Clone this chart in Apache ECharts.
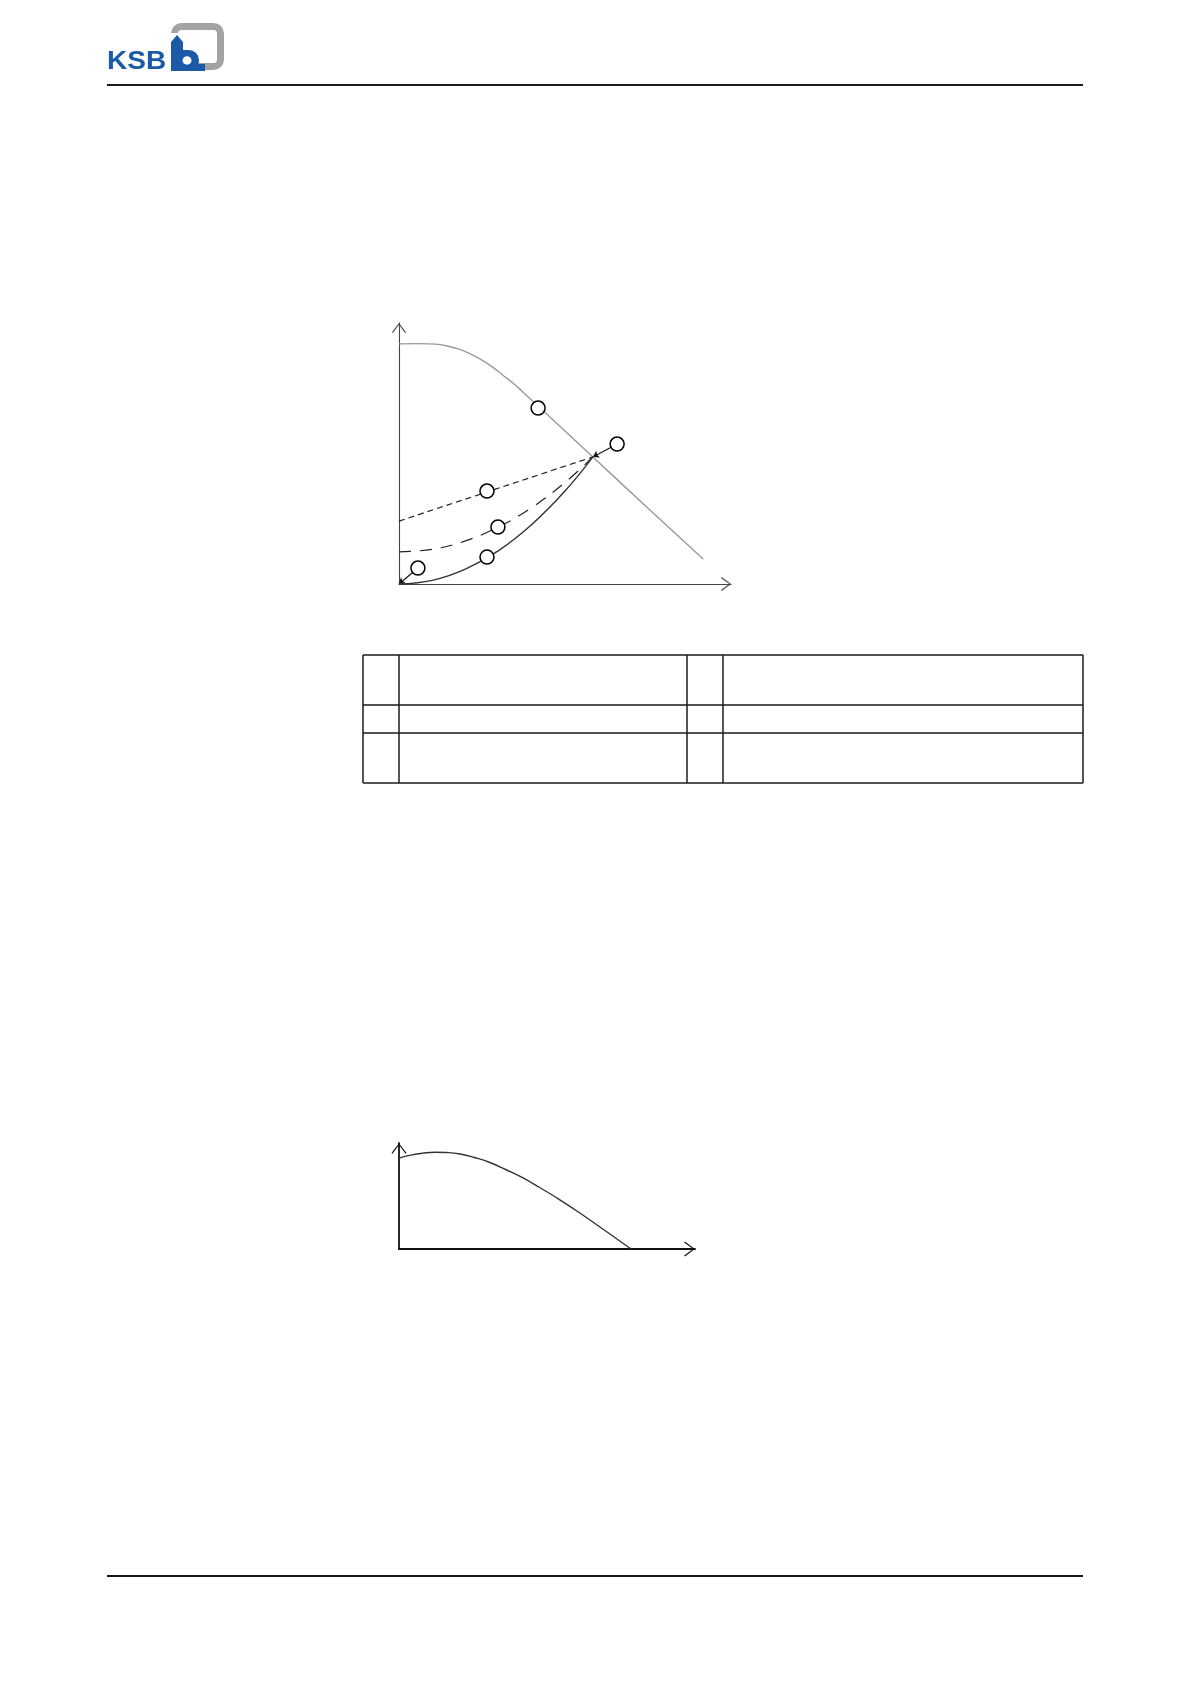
<!DOCTYPE html>
<html>
<head>
<meta charset="utf-8">
<script src="https://cdn.jsdelivr.net/npm/echarts@6/dist/echarts.min.js"></script>
<style>
  html, body { margin: 0; padding: 0; background: #fff; }
  #main { width: 1191px; height: 1684px; }
</style>
</head>
<body>
<div id="main"></div>
<script>
// ---------------- data (axis units 0..100) ----------------
// pump curve H(Q)
const pumpCurve = [[0, 92], [6, 92.1], [11, 91.9], [14.5, 91.2], [17.5, 90.2], [21, 88.5],
  [24.4, 86.2], [28, 83.3], [31.3, 80.0], [34.5, 76.8], [37.3, 73.6], [41.9, 68.2],
  [50, 58.6], [58.4, 48.7], [75, 29.0], [91.6, 9.6]]
// system curves: static only, mixed, dynamic only
const systemStatic = [[0, 24.1], [58.4, 48.7]]
const systemMixed = [[0, 12.3], [10, 13.3], [20, 16.5], [30, 21.9], [40, 29.3], [50, 38.9], [58.4, 48.7]]
const systemDynamic = [[0, 0], [10, 1.4], [20, 5.7], [30, 12.8], [40, 22.8], [50, 35.6], [58.4, 48.7]]
// callout circles and their pointers
const labelCircles = [[41.9, 67.4], [65.7, 53.6], [26.5, 35.6], [29.8, 21.8], [26.5, 10.3], [5.7, 6.1]]
const pointerLines = [[[63.9, 52.4], [58.4, 48.7]], [[4.1, 4.4], [0, 0]]]
// second diagram
const pumpCurve2 = [[0, 85.8], [4, 88.6], [8, 90.4], [12.2, 91.3], [16, 91.0], [20.6, 89.6],
  [25.5, 86.3], [30.7, 81.6], [36, 75.0], [41.9, 67.0], [47.5, 58.0], [53.4, 48.1],
  [61.1, 34.0], [70.3, 16.0], [78.4, 0]]

// open arrow head (chevron) for axis ends
const chevron = 'path://M0,9.2 L7,0 L14,9.2 L13.1,10 L7,1.7 L0.9,10 Z'

function axis(color, width, size) {
  return {
    type: 'value', min: 0, max: 100,
    axisLine: {
      show: true, onZero: true,
      symbol: ['none', chevron], symbolSize: size, symbolOffset: [0, -size[1] / 2],
      lineStyle: { color: color, width: width }
    },
    axisTick: { show: false }, axisLabel: { show: false }, splitLine: { show: false }
  }
}

// table & page rules
const blue = '#1b5aa6'
const grey = '#a3a3a3'
const ink = '#1a1a1a'
const tableX = [363, 399, 687, 723, 1083]
const tableY = [655, 705, 733, 783]
const graphics = []
function hline(y, x1, x2, w) {
  graphics.push({ type: 'line', shape: { x1: x1, y1: y, x2: x2, y2: y }, style: { stroke: ink, lineWidth: w } })
}
function vline(x, y1, y2, w) {
  graphics.push({ type: 'line', shape: { x1: x, y1: y1, x2: x, y2: y2 }, style: { stroke: ink, lineWidth: w } })
}
hline(85, 107, 1083, 2)
hline(1576, 107, 1083, 2)
tableY.forEach(y => hline(y, tableX[0], tableX[tableX.length - 1], 1.5))
tableX.forEach(x => vline(x, tableY[0], tableY[tableY.length - 1], 1.5))

// logo
graphics.push(
  { type: 'rect', shape: { x: 174.5, y: 26.5, width: 46, height: 40, r: 7 }, style: { fill: 'none', stroke: grey, lineWidth: 7 }, z: 1 },
  { type: 'rect', shape: { x: 168, y: 33, width: 18, height: 10 }, style: { fill: '#fff' }, z: 2 },
  { type: 'polygon', shape: { points: [[171, 71], [171, 42], [177, 35], [183, 42], [183, 71]] }, style: { fill: blue }, z: 3 },
  { type: 'rect', shape: { x: 171, y: 50, width: 28, height: 21, r: [0, 10, 10, 0] }, style: { fill: blue }, z: 3 },
  { type: 'rect', shape: { x: 190, y: 64, width: 15, height: 7 }, style: { fill: blue }, z: 3 },
  { type: 'ellipse', shape: { cx: 187, cy: 60.5, rx: 4.5, ry: 4.2 }, style: { fill: '#fff' }, z: 4 },
  { type: 'text', x: 107, y: 62, scaleX: 1.12, style: { text: 'KSB', font: 'bold 25px "Liberation Sans", Arial', fill: blue, verticalAlign: 'middle' }, z: 3 }
)

const chart = echarts.init(document.getElementById('main'))
chart.setOption({
  backgroundColor: '#fff',
  animation: false,
  grid: [
    { left: 399, top: 323, width: 332, height: 261 },
    { left: 399, top: 1143, width: 296, height: 106 }
  ],
  xAxis: [
    Object.assign(axis('#444', 1.1, [14, 10]), { gridIndex: 0 }),
    Object.assign(axis('#111', 1.8, [15, 11]), { gridIndex: 1 })
  ],
  yAxis: [
    Object.assign(axis('#444', 1.1, [14, 10]), { gridIndex: 0 }),
    Object.assign(axis('#111', 1.8, [15, 11]), { gridIndex: 1 })
  ],
  series: [
    {
      type: 'line', data: pumpCurve, smooth: 0.45, showSymbol: false,
      lineStyle: { color: '#9a9a9a', width: 1.4 }
    },
    {
      type: 'line', data: systemStatic, showSymbol: false,
      lineStyle: { color: '#222', width: 1.2, type: [6, 4] }
    },
    {
      type: 'line', data: systemMixed, smooth: 0.4, showSymbol: false,
      lineStyle: { color: '#222', width: 1.2, type: [12, 9] }
    },
    {
      type: 'line', data: systemDynamic, smooth: 0.4, showSymbol: false,
      lineStyle: { color: '#333', width: 1.4 }
    },
    {
      type: 'lines', coordinateSystem: 'cartesian2d', xAxisIndex: 0, yAxisIndex: 0,
      symbol: ['none', 'arrow'], symbolSize: 6, z: 3,
      lineStyle: { color: '#111', width: 1.1, opacity: 1 },
      data: pointerLines.map(c => ({ coords: c }))
    },
    {
      type: 'scatter', data: labelCircles, symbol: 'circle', symbolSize: 14, z: 4,
      itemStyle: { color: '#fff', borderColor: '#000', borderWidth: 1.5, opacity: 1 }
    },
    {
      type: 'line', xAxisIndex: 1, yAxisIndex: 1, data: pumpCurve2, smooth: 0.5,
      showSymbol: false, lineStyle: { color: '#333', width: 1.4 }
    }
  ],
  graphic: graphics
})
</script>
</body>
</html>
